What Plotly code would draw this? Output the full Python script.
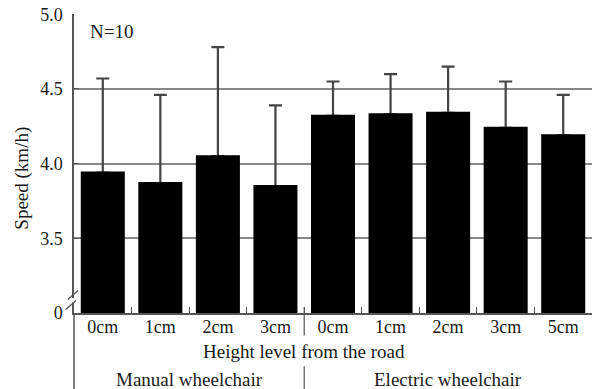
import plotly.graph_objects as go

categories = ["0cm", "1cm", "2cm", "3cm", "0cm", "1cm", "2cm", "3cm", "5cm"]
groups = ["Manual wheelchair", "Electric wheelchair"]
group_sizes = [4, 5]
speed_mean = [3.94, 3.87, 4.05, 3.85, 4.32, 4.33, 4.34, 4.24, 4.19]
speed_sd = [0.63, 0.59, 0.73, 0.54, 0.23, 0.27, 0.31, 0.31, 0.27]
y_tickvals = [3.0, 3.5, 4.0, 4.5, 5.0]
y_ticktext = ["0", "3.5", "4.0", "4.5", "5.0"]

x_pos = list(range(len(categories)))
FONT = "Liberation Serif"
TXT = "#1a1a1a"

fig = go.Figure()
# bars carrying the error bars (upper part only visible)
fig.add_trace(go.Bar(
    x=x_pos, y=speed_mean, width=0.73,
    marker=dict(color="black", line=dict(width=0)),
    error_y=dict(type="data", symmetric=False, array=speed_sd,
                 arrayminus=[0] * len(speed_sd),
                 color="#444", thickness=2.2, width=6.5),
    showlegend=False, hoverinfo="skip",
))
# same bars drawn on top to hide the lower cap at the bar top
fig.add_trace(go.Bar(
    x=x_pos, y=speed_mean, width=0.73,
    marker=dict(color="black", line=dict(width=2, color="black")),
    showlegend=False,
))

sep = group_sizes[0] - 0.5
between = [i + 0.5 for i in range(len(categories) - 1)]

fig.update_layout(
    width=592, height=389,
    margin=dict(l=74, r=0, t=14, b=76),
    paper_bgcolor="white", plot_bgcolor="white",
    font=dict(family=FONT, size=18, color=TXT),
    barmode="overlay",
    xaxis=dict(
        range=[-0.5, len(categories) - 0.5],
        tickvals=x_pos, ticktext=categories,
        ticks="", showgrid=False, zeroline=False,
        showline=True, linecolor="#555", linewidth=1.5,
        tickfont=dict(family=FONT, size=18, color=TXT),
        ticklabelstandoff=-3,
        minor=dict(tickvals=between, ticks="inside", ticklen=6,
                   tickcolor="#555", tickwidth=1.2, showgrid=False),
    ),
    yaxis=dict(
        range=[3.0, 5.002],
        tickvals=y_tickvals, ticktext=y_ticktext,
        ticks="inside", ticklen=5, tickcolor="#555",
        showgrid=True, gridcolor="#888", gridwidth=1.5,
        zeroline=False,
        showline=True, linecolor="#555", linewidth=1.5,
        tickfont=dict(family=FONT, size=18, color=TXT),
        ticklabelstandoff=6,
    ),
)

# group separator and extended left axis
fig.add_shape(type="line", xref="x", yref="paper", x0=sep, x1=sep,
              y0=0.02, y1=-0.075, line=dict(color="#555", width=1.2))
fig.add_shape(type="line", xref="x", yref="paper", x0=sep, x1=sep,
              y0=-0.178, y1=-0.26, line=dict(color="#555", width=1.2))
fig.add_shape(type="line", xref="paper", yref="paper", x0=0, x1=0,
              y0=0, y1=-0.26, line=dict(color="#555", width=1.5))

# axis break marks
fig.add_shape(type="rect", xref="paper", yref="paper",
              x0=-0.004, x1=0.004, y0=0.035, y1=0.05,
              fillcolor="white", line=dict(width=0), layer="above")
fig.add_shape(type="line", xref="paper", yref="paper",
              x0=-0.012, x1=0.008, y0=0.045, y1=0.075,
              line=dict(color="#555", width=1.3), layer="above")
fig.add_shape(type="line", xref="paper", yref="paper",
              x0=-0.016, x1=0.004, y0=0.012, y1=0.042,
              line=dict(color="#555", width=1.3), layer="above")

# annotations
fig.add_annotation(text="N=10", xref="paper", yref="paper", x=0.027, y=0.94,
                   xanchor="left", yanchor="middle", showarrow=False,
                   font=dict(family=FONT, size=19, color=TXT))
fig.add_annotation(text="Speed (km/h)", xref="paper", yref="paper",
                   x=-0.1, y=0.45, textangle=-90, showarrow=False,
                   xanchor="center", yanchor="middle",
                   font=dict(family=FONT, size=19, color=TXT))
fig.add_annotation(text="Height level from the road", xref="x", yref="paper",
                   x=sep, y=-0.13, showarrow=False,
                   xanchor="center", yanchor="middle",
                   font=dict(family=FONT, size=19, color=TXT))
start = 0
for g, n in zip(groups, group_sizes):
    center = start + (n - 1) / 2
    fig.add_annotation(text=g, xref="x", yref="paper", x=center, y=-0.222,
                       showarrow=False, xanchor="center", yanchor="middle",
                       font=dict(family=FONT, size=19, color=TXT))
    start += n

fig.write_html("out.html")
